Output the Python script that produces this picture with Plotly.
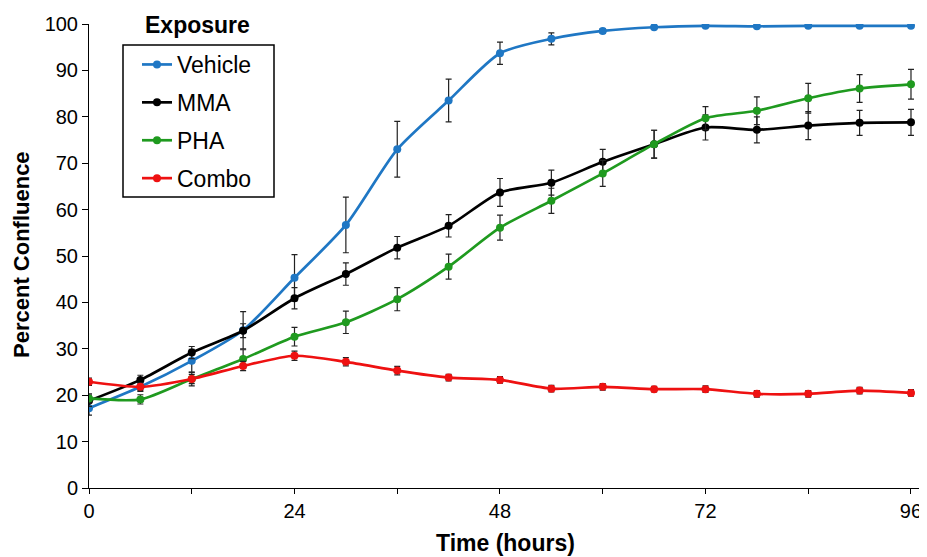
import plotly.graph_objects as go

hours = [0, 6, 12, 18, 24, 30, 36, 42, 48, 54, 60, 66, 72, 78, 84, 90, 96]

vehicle = [17.2, 21.8, 27.4, 34.0, 45.3, 56.7, 73.0, 83.5, 93.7, 96.8, 98.5, 99.3, 99.6, 99.5, 99.6, 99.6, 99.6]
vehicle_err = [1.5, 1.0, 2.5, 4.0, 5.0, 6.0, 6.0, 4.6, 2.4, 1.3, 0.5, 0.3, 0.3, 0.3, 0.3, 0.3, 0.3]

mma = [18.8, 23.3, 29.2, 33.9, 40.9, 46.1, 51.8, 56.5, 63.7, 65.8, 70.3, 74.1, 77.7, 77.2, 78.1, 78.7, 78.8]
mma_err = [1.2, 1.0, 1.3, 1.5, 2.3, 2.4, 2.4, 2.4, 3.0, 2.7, 2.7, 3.0, 2.7, 2.8, 3.0, 2.7, 2.8]

pha = [19.3, 19.1, 23.5, 27.8, 32.6, 35.7, 40.7, 47.7, 56.1, 61.9, 67.8, 74.1, 79.7, 81.3, 84.0, 86.1, 87.0]
pha_err = [1.0, 1.0, 1.5, 2.0, 2.0, 2.4, 2.5, 2.7, 2.7, 2.7, 2.8, 3.0, 2.5, 3.0, 3.2, 3.0, 3.2]

combo = [22.9, 21.8, 23.5, 26.3, 28.5, 27.2, 25.3, 23.8, 23.3, 21.4, 21.8, 21.3, 21.3, 20.3, 20.3, 21.0, 20.5]
combo_err = [0.8, 0.8, 1.0, 1.0, 1.0, 0.9, 0.9, 0.7, 0.7, 0.7, 0.7, 0.6, 0.7, 0.7, 0.7, 0.7, 0.7]

series = [
    ("Vehicle", vehicle, vehicle_err, "#1F77C4"),
    ("MMA", mma, mma_err, "#000000"),
    ("PHA", pha, pha_err, "#1F9A1F"),
    ("Combo", combo, combo_err, "#EE1111"),
]

x_tickvals = [0, 12, 24, 36, 48, 60, 72, 84, 96]
x_ticktext = ["0", "", "24", "", "48", "", "72", "", "96"]
y_tickvals = [0, 10, 20, 30, 40, 50, 60, 70, 80, 90, 100]

FONT = "Liberation Sans, Arial, sans-serif"

# page body has an 8px margin: figure is sized to fit the window
W, H = 919, 549
L, R, T, B = 81, 0, 16, 69
pw, ph = W - L - R, H - T - B


def px(sx):  # screen x -> paper x
    return (sx - 8 - L) / pw


def py(sy):  # screen y -> paper y
    return (H - B - (sy - 8)) / ph


fig = go.Figure()
for name, vals, errs, col in series:
    fig.add_trace(go.Scatter(
        x=hours, y=vals, name=name, mode="lines+markers",
        legendgroup=name,
        line=dict(color=col, width=2.7, shape="spline", smoothing=0.7),
        marker=dict(color=col, size=8),
        error_y=dict(type="data", array=errs, visible=True, color="#222222",
                     thickness=1.2, width=3),
    ))

fig.update_layout(
    width=W, height=H,
    margin=dict(l=L, r=R, t=T, b=B),
    paper_bgcolor="white", plot_bgcolor="white",
    font=dict(family=FONT, color="black", size=20),
    showlegend=True,
    legend=dict(
        x=px(137), y=py(43), xanchor="left", yanchor="top",
        borderwidth=0, bgcolor="rgba(0,0,0,0)",
        font=dict(size=23, family=FONT),
        tracegroupgap=5, itemwidth=30,
    ),
    xaxis=dict(
        range=[0, 97.87], tickvals=x_tickvals, ticktext=x_ticktext,
        showgrid=False, zeroline=False, showline=True, linecolor="black", linewidth=1,
        ticks="outside", ticklen=5, tickcolor="black",
        tickfont=dict(size=20), automargin=False,
    ),
    yaxis=dict(
        range=[0, 100], tickvals=y_tickvals,
        showgrid=False, zeroline=False, showline=True, linecolor="black", linewidth=1,
        ticks="outside", ticklen=6, tickcolor="black",
        tickfont=dict(size=20), automargin=False,
    ),
    shapes=[dict(type="rect", xref="paper", yref="paper",
                 x0=px(123), x1=px(274), y0=py(197), y1=py(45),
                 line=dict(color="black", width=1.5), fillcolor="rgba(0,0,0,0)")],
    annotations=[
        dict(x=px(197), y=py(25), xref="paper", yref="paper", xanchor="center", yanchor="middle",
             text="<b>Exposure</b>", showarrow=False, font=dict(size=23)),
        dict(x=px(505), y=py(543), xref="paper", yref="paper", xanchor="center", yanchor="middle",
             text="<b>Time (hours)</b>", showarrow=False, font=dict(size=23)),
        dict(x=px(22), y=py(255), xref="paper", yref="paper", xanchor="center", yanchor="middle",
             text="<b>Percent Confluence</b>", showarrow=False, textangle=-90,
             font=dict(size=22)),
    ],
)

fig.write_html("out.html")
